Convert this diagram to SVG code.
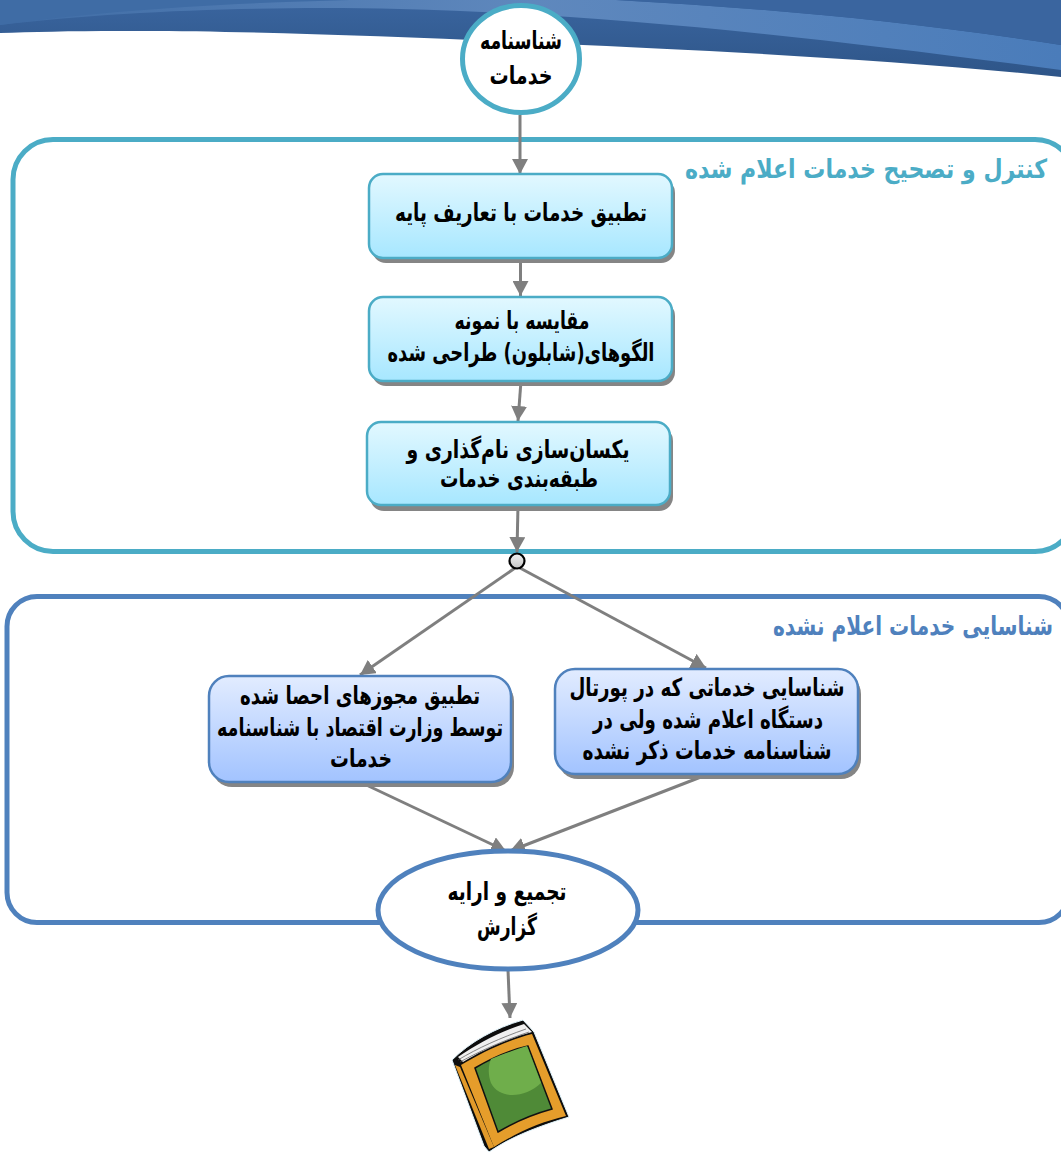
<svg xmlns="http://www.w3.org/2000/svg" width="1061" height="1152" viewBox="0 0 1061 1152">
<style>
text{font-family:"DejaVu Sans","Noto Sans",sans-serif;font-weight:bold;fill:#000;direction:rtl;text-anchor:middle;font-size:25px}
.c{fill:none;stroke:#7f7f7f;stroke-width:3}
.a{marker-end:url(#arrow)}
.grp{fill:none;stroke-width:5}
.bx1{fill:url(#g1);stroke:#4bacc6;stroke-width:2.500}
.bx2{fill:url(#g2);stroke:#4f81bd;stroke-width:2.500}
.sh{fill:#858585;filter:url(#soft)}
.ov{fill:#fff;stroke-width:5}
.t1{fill:#4bacc6;font-size:22px}
.t2{fill:#4f81bd;font-size:19px}
</style>
<defs>
<filter id="soft" x="-5%" y="-5%" width="110%" height="110%"><feGaussianBlur stdDeviation="0.600"/></filter>
<marker id="arrow" markerUnits="userSpaceOnUse" markerWidth="16" markerHeight="16" refX="15" refY="8" orient="auto"><path d="M0 0L15 8L0 16Z" fill="#7f7f7f"/></marker>
<linearGradient id="g1" x1="0" y1="0" x2="0" y2="1"><stop offset="0" stop-color="#e2f8ff"/><stop offset="1" stop-color="#a7e7ff"/></linearGradient>
<linearGradient id="g2" x1="0" y1="0" x2="0" y2="1"><stop offset="0" stop-color="#e2ecff"/><stop offset="1" stop-color="#a2c3ff"/></linearGradient>
<linearGradient id="g3" x1="0" y1="0" x2="0" y2="1"><stop offset="0" stop-color="#f2f2f2"/><stop offset="1" stop-color="#c4c4c4"/></linearGradient>
<linearGradient id="b1" x1="0" y1="0" x2="1" y2="0"><stop offset="0" stop-color="#3f6ca5"/><stop offset=".5" stop-color="#5f88bd"/><stop offset="1" stop-color="#4a7cba"/></linearGradient>
<linearGradient id="b2" x1="0" y1="0" x2="0" y2="1"><stop offset="0" stop-color="#3a659f"/><stop offset="1" stop-color="#2e5588"/></linearGradient>
</defs>

<g id="banner">
<path d="M0 0H1061V77C900 60 700 50 560 44C400 36 220 30 120 31C70 31 30 32 0 33Z" fill="url(#b2)"/>
<path d="M0 25C120 10 280 6 400 9C600 14 800 35 1061 70V45C900 20 760 8 616 0H0Z" fill="url(#b1)"/>
<path d="M0 0H350C220 3 90 12 0 25Z" fill="#3f6ca5"/>
<path d="M616 0C760 8 900 20 1061 45V0Z" fill="#3a659f"/>
</g>

<g id="group-control"><rect class="grp" x="13" y="139.500" width="1062" height="412" rx="40" stroke="#4bacc6"/></g>
<g id="group-identify"><rect class="grp" x="7" y="596.500" width="1062" height="326" rx="30" stroke="#4f81bd"/></g>

<g id="connectors">
<line class="c a" x1="520" y1="115" x2="520" y2="174"/>
<line class="c a" x1="520.500" y1="258" x2="520.500" y2="296"/>
<line class="c a" x1="521" y1="381" x2="518" y2="421"/>
<line class="c a" x1="518" y1="505" x2="517" y2="552"/>
<line class="c a" x1="515" y1="568" x2="360" y2="675"/>
<line class="c a" x1="520" y1="568" x2="706" y2="668"/>
<line class="c a" x1="360" y1="782" x2="506" y2="851"/>
<line class="c a" x1="706" y1="775" x2="510" y2="851"/>
<line class="c a" x1="508" y1="970" x2="510" y2="1018"/>
</g>

<g id="start"><ellipse class="ov" cx="521" cy="59" rx="58.500" ry="53.500" stroke="#4bacc6"/>
<text x="521" y="49" textLength="82" lengthAdjust="spacingAndGlyphs">شناسنامه</text>
<text x="521" y="84" textLength="63" lengthAdjust="spacingAndGlyphs">خدمات</text></g>

<g id="title-control"><text class="t1" transform="translate(866 178) scale(1 1.2)" textLength="362" lengthAdjust="spacingAndGlyphs">کنترل و تصحیح خدمات اعلام شده</text></g>
<g id="title-identify"><text class="t2" transform="translate(913 635) scale(1 1.4)" textLength="280" lengthAdjust="spacingAndGlyphs">شناسایی خدمات اعلام نشده</text></g>

<g id="box1"><rect class="sh" x="372" y="179" width="303" height="84" rx="14"/><rect class="bx1" x="369" y="174" width="303" height="84" rx="14"/>
<text x="521" y="221" textLength="252" lengthAdjust="spacingAndGlyphs">تطبیق خدمات با تعاریف پایه</text></g>
<g id="box2"><rect class="sh" x="372" y="302" width="303" height="84" rx="14"/><rect class="bx1" x="369" y="297" width="303" height="84" rx="14"/>
<text x="522" y="329" textLength="135" lengthAdjust="spacingAndGlyphs">مقایسه با نمونه</text>
<text x="521" y="361" textLength="267" lengthAdjust="spacingAndGlyphs">الگوهای(شابلون) طراحی شده</text></g>
<g id="box3"><rect class="sh" x="370" y="427" width="303" height="84" rx="14"/><rect class="bx1" x="367" y="422" width="303" height="83" rx="14"/>
<text x="518" y="458" textLength="223" lengthAdjust="spacingAndGlyphs">یکسان‌سازی نام‌گذاری و</text>
<text x="519" y="487" textLength="158" lengthAdjust="spacingAndGlyphs">طبقه‌بندی خدمات</text></g>

<g id="junction"><circle cx="517" cy="561" r="7.500" fill="url(#g3)" stroke="#000" stroke-width="2.200"/></g>

<g id="box4"><rect class="sh" x="212" y="681" width="302" height="106" rx="20"/><rect class="bx2" x="209" y="676" width="302" height="106" rx="20"/>
<text x="360" y="704" textLength="240" lengthAdjust="spacingAndGlyphs">تطبیق مجوزهای احصا شده</text>
<text x="360" y="736" textLength="286" lengthAdjust="spacingAndGlyphs">توسط وزارت اقتصاد با شناسنامه</text>
<text x="361" y="767" textLength="62" lengthAdjust="spacingAndGlyphs">خدمات</text></g>
<g id="box5"><rect class="sh" x="558" y="674" width="303" height="105" rx="20"/><rect class="bx2" x="555" y="669" width="303" height="105" rx="20"/>
<text x="707" y="696" textLength="275" lengthAdjust="spacingAndGlyphs">شناسایی خدماتی که در پورتال</text>
<text x="708" y="728" textLength="230" lengthAdjust="spacingAndGlyphs">دستگاه اعلام شده ولی در</text>
<text x="707" y="759" textLength="249" lengthAdjust="spacingAndGlyphs">شناسنامه خدمات ذکر نشده</text></g>

<g id="end"><ellipse class="ov" cx="508" cy="910" rx="130" ry="59" stroke="#4f81bd"/>
<text x="507" y="900" textLength="119" lengthAdjust="spacingAndGlyphs">تجمیع و ارایه</text>
<text x="507" y="935" textLength="60" lengthAdjust="spacingAndGlyphs">گزارش</text></g>

<g id="book">
<path d="M452 1060C470 1042 495 1028 523 1020L534 1032L569 1117C540 1126 512 1136 489 1152L484 1146Z" fill="#0d0d0d" stroke="#dff3fb" stroke-width="1"/>
<path d="M458 1057C478 1043 502 1031 524 1024L532 1032C510 1038 482 1050 463 1062Z" fill="#f0f0f0"/>
<path d="M458 1060C478 1048 500 1038 526 1029M460 1062C480 1051 502 1041 529 1032" fill="none" stroke="#555" stroke-width=".7"/>
<path d="M455 1065L460 1067L494 1147L489 1149Z" fill="#e29a2a"/>
<path d="M461 1065C482 1052 508 1040 532 1034L566 1116C540 1122 516 1133 494 1147Z" fill="#e59d2b"/>
<path d="M475 1068C490 1059 510 1050 528 1046L552 1109C530 1115 513 1123 498 1132Z" fill="#4f8a37" stroke="#111" stroke-width="1.500"/>
<path d="M491 1059C505 1053 518 1049 527 1046L541 1083C525 1098 500 1100 491 1083C488 1075 488 1066 491 1059Z" fill="#6fae4b"/>
</g>
</svg>
